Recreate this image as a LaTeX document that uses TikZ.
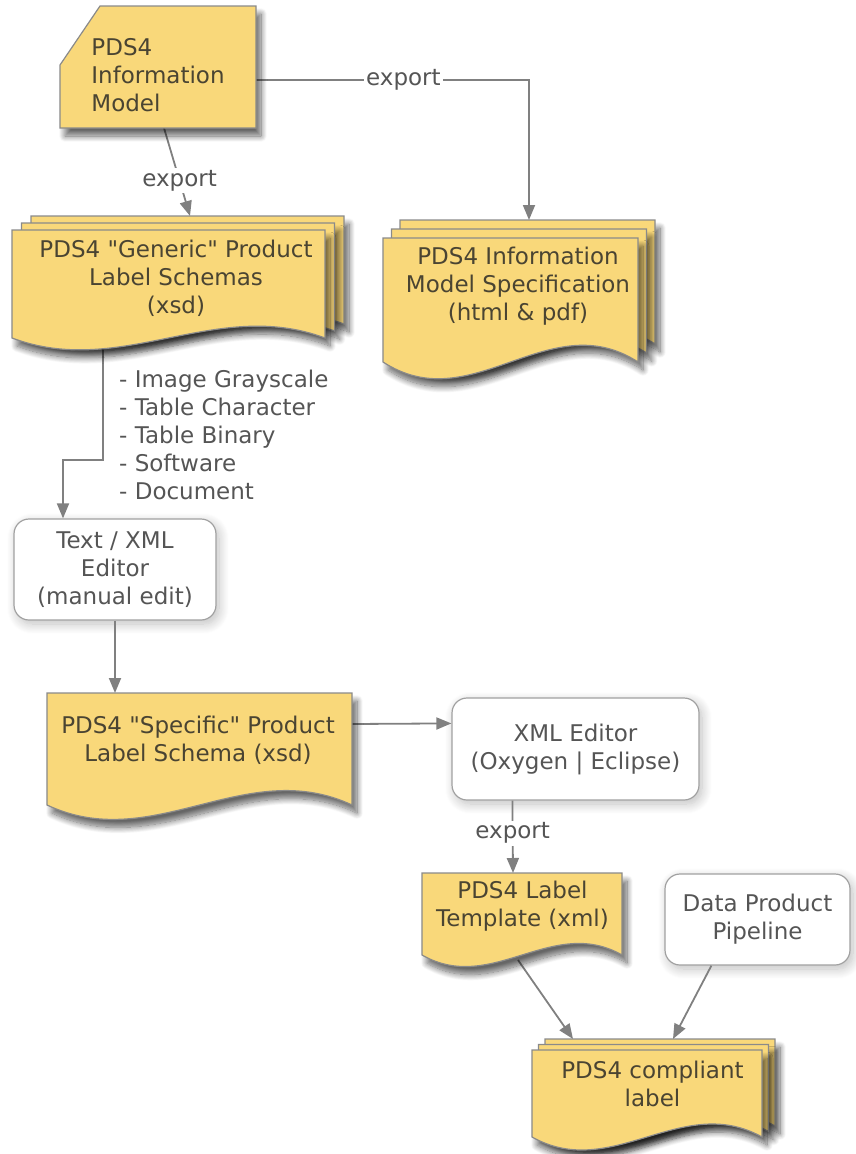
\documentclass[tikz,border=0pt]{standalone}
\usepackage{fontspec}
\setmainfont{DejaVu Sans}
\usetikzlibrary{arrows.meta,calc,shadows.blur}
\definecolor{docfill}{HTML}{F9D87A}
\definecolor{edgegray}{HTML}{8A8A8A}
\definecolor{linegray}{HTML}{808080}
\definecolor{doctext}{HTML}{4A4432}
\definecolor{boxtext}{HTML}{555555}
\newcommand\bodyfont{\fontsize{23}{28}\selectfont}
\newcommand\docpath[5]{(#1,#2) -- (#3,#2) -- (#3,#4) .. controls ({#3-0.35*(#3-#1)},{#4-#5}) and ({#3-0.65*(#3-#1)},{#4+#5}) .. (#1,#4) -- cycle}
\newcommand\docstack[7]{%
  \foreach \k in {2,1,0}{%
    \pgfmathsetmacro\ax{#1+\k*#6}%
    \pgfmathsetmacro\ay{#2-\k*#7}%
    \pgfmathsetmacro\bx{#3+\k*#6}%
    \pgfmathsetmacro\by{#4-\k*#7}%
    \draw[docshape] \docpath{\ax}{\ay}{\bx}{\by}{#5};
  }}
\tikzset{
  docshadow/.style={blur shadow={shadow xshift=5pt, shadow yshift=-8pt, shadow blur radius=6pt, shadow blur steps=12, shadow opacity=60}},
  boxshadow/.style={blur shadow={shadow xshift=3pt, shadow yshift=-4pt, shadow blur radius=10pt, shadow blur steps=12, shadow opacity=25}},
  docshape/.style={fill=docfill, draw=edgegray, line width=1.2pt, docshadow},
  holder/.style={rectangle, draw=none, inner sep=0pt, outer sep=0pt},
  doctxt/.style={text=doctext, font=\bodyfont, align=center, inner sep=0pt},
  wbox/.style={rectangle, draw=edgegray!80, fill=white, rounded corners=15pt, line width=1.2pt,
    boxshadow, text=boxtext, font=\bodyfont, align=center, inner sep=0pt},
  conn/.style={draw=linegray, line width=1.8pt, -{Triangle[length=15pt,width=12pt]}},
  lbl/.style={fill=white, inner sep=2pt, text=boxtext, font=\bodyfont},
  listtxt/.style={text=boxtext, font=\bodyfont, align=left, inner sep=0pt}
}
\begin{document}
\begin{tikzpicture}[x=1pt,y=-1pt]
\useasboundingbox (0,0) rectangle (855,1154);
% off-page dummies so that the first shadow of each kind is rendered outside the page
\path[boxshadow, fill=white] (-300,-300) rectangle (-200,-200);
\path[docshadow, fill=white] (-300,-600) rectangle (-200,-500);

% invisible holders (for connector anchors)
\node[holder, minimum width=196pt, minimum height=122pt] (im) at (158,67) {};
\node[holder, minimum width=332pt, minimum height=124pt] (gen) at (178,278) {};
\node[holder, minimum width=272pt, minimum height=145pt] (spec) at (519,292.5) {};
\node[holder, minimum width=305pt, minimum height=112pt] (spc) at (199.5,749) {};
\node[holder, minimum width=200pt, minimum height=82pt] (tmpl) at (522,914) {};
\node[holder, minimum width=240pt, minimum height=101pt] (comp) at (652,1089.5) {};

% white boxes
\node[wbox, minimum width=202pt, minimum height=101pt] (ed) at (115,569.5) {Text / XML\\Editor\\(manual edit)};
\node[wbox, minimum width=247pt, minimum height=102pt] (xml) at (575.5,749) {XML Editor\\(Oxygen | Eclipse)};
\node[wbox, minimum width=185pt, minimum height=91pt] (pip) at (757.5,919.5) {Data Product\\Pipeline};

% connectors
\draw[conn] ($(im.south)+(6,0)$) -- ($(gen.north)+(12,0)$) node[lbl, pos=0.6] {export};
\draw[conn] ($(im.east)+(0,13)$) -| ($(spec.north)+(10,0)$) node[lbl, pos=0.27] {export};
\coordinate (g1) at (103,460);
\draw[conn] (g1 |- gen.south) -- (g1) -| ($(ed.north)+(-52,0)$);
\draw[conn] (ed.south) -- (ed.south |- spc.north);
\draw[conn] ($(spc.north east)+(0,31)$) -- ($(xml.north west)+(0,26)$);
\draw[conn] ($(xml.south west)+(61,0)$) -- ($(tmpl.north west)+(91,0)$) node[lbl, pos=0.45] {export};
\draw[conn] ($(tmpl.south west)+(96,5)$) -- ($(comp.north west)+(41,0)$);
\draw[conn] ($(pip.south west)+(47,0)$) -- ($(comp.north west)+(141,0)$);

% yellow shapes
\draw[docshape] (60,65) -- (100,6) -- (256,6) -- (256,128) -- (60,128) -- cycle;
\docstack{12}{230}{325}{338}{41}{9.5}{7}
\docstack{383}{238}{638}{362}{58}{8.5}{9}
\draw[docshape] \docpath{47}{693}{352}{805}{50};
\draw[docshape] \docpath{422}{873}{622}{955}{40};
\docstack{532}{1050}{762}{1137}{45}{6.5}{5.5}

% texts
\node[doctxt, align=left] (imt) at (158,75) {PDS4\\Information\\Model};
\node[doctxt] (gent) at (176,278) {PDS4 \textquotedbl Generic\textquotedbl{} Product\\Label Schemas\\(xsd)};
\node[doctxt] (spect) at (518,286) {PDS4 Information\\Model Specification\\(html \& pdf)};
\node[doctxt] (spct) at (198,740) {PDS4 \textquotedbl Specific\textquotedbl{} Product\\Label Schema (xsd)};
\node[doctxt] (tmplt) at (522.5,906.5) {PDS4 Label\\Template (xml)};
\node[doctxt] (compt) at (652.5,1084) {PDS4 compliant\\label};
\node[listtxt, anchor=west] (types) at (119,435) {- Image Grayscale\\- Table Character\\- Table Binary\\- Software\\- Document};
\end{tikzpicture}
\end{document}
